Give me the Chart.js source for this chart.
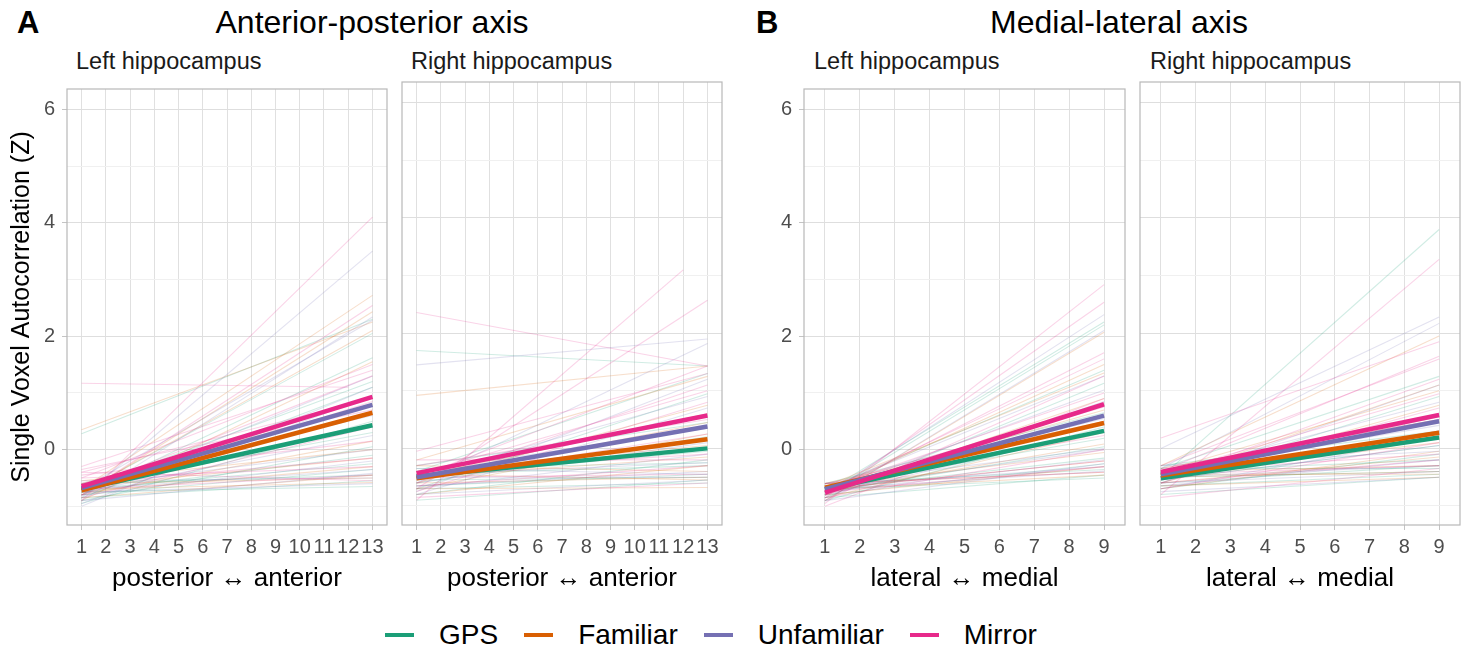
<!DOCTYPE html>
<html>
<head>
<meta charset="utf-8">
<script src="https://cdn.jsdelivr.net/npm/chart.js@4.4.1/dist/chart.umd.min.js"></script>
<style>
  html, body { margin: 0; padding: 0; background: #fff; }
  body { width: 1466px; height: 651px; position: relative; overflow: hidden;
         font-family: "Liberation Sans", Arial, Helvetica, sans-serif; }
  canvas { position: absolute; }
  .lbl { position: absolute; white-space: nowrap; color: #000; line-height: 1; }
  .tag { font-weight: bold; font-size: 31px; }
  .ttl { font-size: 32px; transform: translateX(-50%); }
  .strip { font-size: 23.5px; color: #1a1a1a; }
  #legend { position: absolute; left: 385px; top: 619px; display: flex; align-items: center;
            font-size: 28px; }
  #legend .sw { width: 29px; height: 4px; margin-right: 25px; }
  #legend .it { display: flex; align-items: center; margin-right: 26px; }
</style>
</head>
<body>
<div class="lbl tag" style="left:17px;top:7px">A</div>
<div class="lbl ttl" style="left:372px;top:6px">Anterior-posterior axis</div>
<div class="lbl tag" style="left:756px;top:7px">B</div>
<div class="lbl ttl" style="left:1119px;top:6px">Medial-lateral axis</div>
<div class="lbl strip" style="left:76px;top:50px">Left hippocampus</div>
<div class="lbl strip" style="left:411px;top:50px">Right hippocampus</div>
<div class="lbl strip" style="left:814px;top:50px">Left hippocampus</div>
<div class="lbl strip" style="left:1150px;top:50px">Right hippocampus</div>

<canvas id="apLeft" width="395" height="530" style="left:0px;top:70px"></canvas>
<canvas id="apRight" width="332" height="530" style="left:398px;top:70px"></canvas>
<canvas id="mlLeft" width="373" height="530" style="left:760px;top:70px"></canvas>
<canvas id="mlRight" width="329" height="530" style="left:1136px;top:70px"></canvas>

<div id="legend"></div>

<script>
var GROUPS = ['GPS', 'Familiar', 'Unfamiliar', 'Mirror'];
var GROUP_COLORS = ['#1B9E77', '#D95F02', '#7570B3', '#E7298A'];

var AP_POSITIONS = [1, 2, 3, 4, 5, 6, 7, 8, 9, 10, 11, 12, 13];
var ML_POSITIONS = [1, 2, 3, 4, 5, 6, 7, 8, 9];
var Y_TICKS = [-1, 0, 1, 2, 3, 4, 5, 6];

// model fits per group: [value at first position, value at last position]
var AP_LEFT_MEANS  = [[-0.70, 0.43], [-0.72, 0.65], [-0.68, 0.79], [-0.65, 0.93]];
var AP_RIGHT_MEANS = [[-0.49, 0.00], [-0.52, 0.16], [-0.50, 0.38], [-0.43, 0.57]];
var ML_LEFT_MEANS  = [[-0.70, 0.33], [-0.67, 0.47], [-0.70, 0.60], [-0.76, 0.80]];
var ML_RIGHT_MEANS = [[-0.52, 0.19], [-0.47, 0.27], [-0.45, 0.47], [-0.41, 0.58]];

// single subjects: [start, end] or [start, end, last position]
var AP_LEFT_GPS = [[0.28, 2.30], [-0.75, 2.05], [-0.80, 1.62], [-0.70, 1.20], [-0.85, 1.10], [-0.65, 0.30],
  [-0.90, 0.05], [-0.75, -0.10], [-0.70, -0.25], [-0.80, -0.35], [-0.60, -0.45], [-0.85, -0.55], [-0.75, -0.65], [-0.95, 0.50]];
var AP_LEFT_FAM = [[0.35, 2.25], [-0.70, 2.72], [-0.80, 2.43], [-0.75, 2.10], [-0.90, 1.55], [-0.60, 0.80],
  [-0.70, 0.45], [-0.80, 0.15], [-0.65, -0.15], [-0.75, -0.30], [-0.85, -0.45], [-0.60, -0.50], [-0.70, -0.58], [-0.55, 0.00]];
var AP_LEFT_UNF = [[-0.85, 3.50], [-0.90, 2.34], [-0.70, 2.28], [-0.80, 1.30], [-0.95, 0.95], [-0.60, 0.60],
  [-0.75, 0.25], [-0.65, 0.00], [-0.80, -0.20], [-0.70, -0.35], [-0.90, -0.42], [-0.55, -0.50], [-0.75, -0.60], [-1.00, 1.10]];
var AP_LEFT_MIR = [[1.17, 1.10, 12], [-0.90, 4.10], [-0.80, 2.54], [-0.50, 1.50], [-0.30, 1.40], [-0.70, 1.30],
  [-0.40, 0.90], [-0.35, 0.70], [-0.85, 0.40], [-0.45, 0.15], [-0.60, -0.15], [-0.50, -0.30], [-0.70, -0.45], [-0.40, -0.55], [-0.80, 0.85]];

var AP_RIGHT_GPS = [[1.70, 1.43], [-0.40, 1.30], [-0.70, 0.95], [-0.30, 0.45], [-0.60, 0.20], [-0.50, -0.05],
  [-0.80, -0.20], [-0.45, -0.30], [-0.65, -0.45], [-0.55, -0.50], [-0.70, -0.60], [-0.90, -0.55], [-0.35, -0.25]];
var AP_RIGHT_FAM = [[0.92, 1.43], [-0.20, 1.25], [-0.60, 0.75], [-0.55, 0.45], [-0.70, 0.25], [-0.40, 0.05],
  [-0.50, -0.15], [-0.80, -0.30], [-0.30, -0.40], [-0.60, -0.50], [-0.45, -0.55], [-0.70, -0.68], [-0.50, 0.60]];
var AP_RIGHT_UNF = [[1.45, 1.90], [-0.60, 1.82], [-0.75, 1.20], [-0.50, 0.90], [-0.80, 0.70], [-0.40, 0.35],
  [-0.60, 0.10], [-0.70, -0.10], [-0.45, -0.25], [-0.65, -0.40], [-0.50, -0.50], [-0.80, -0.55], [-0.35, -0.45]];
var AP_RIGHT_MIR = [[2.36, 1.43], [-0.90, 3.10, 12], [-0.70, 2.57], [-0.50, 1.43], [-0.05, 1.30], [-0.60, 1.10],
  [-0.45, 1.00], [-0.75, 0.80], [-0.30, 0.50], [-0.55, 0.25], [-0.40, -0.10], [-0.65, -0.30], [-0.50, -0.45], [-0.85, -0.60], [-0.20, -0.20]];

var ML_LEFT_GPS = [[-0.75, 2.25], [-0.80, 2.20], [-0.70, 1.40], [-0.85, 1.17], [-0.60, 0.65], [-0.90, 0.40],
  [-0.65, 0.20], [-0.75, 0.05], [-0.70, -0.15], [-0.80, -0.25], [-0.60, -0.35], [-0.85, -0.45], [-0.70, -0.50]];
var ML_LEFT_FAM = [[-0.90, 2.07], [-0.75, 1.50], [-0.65, 1.35], [-0.80, 0.90], [-0.70, 0.70], [-0.60, 0.50],
  [-0.85, 0.30], [-0.75, 0.10], [-0.65, -0.05], [-0.70, -0.20], [-0.80, -0.30], [-0.60, -0.40], [-0.70, -0.45]];
var ML_LEFT_UNF = [[-0.80, 2.38], [-0.90, 2.10], [-0.70, 1.30], [-0.75, 1.05], [-0.85, 0.85], [-0.65, 0.55],
  [-0.80, 0.35], [-0.70, 0.00], [-0.60, 0.02], [-0.75, -0.18], [-0.90, -0.25], [-0.65, -0.30], [-0.70, -0.38]];
var ML_LEFT_MIR = [[-0.95, 2.91], [-0.85, 2.60], [-0.80, 1.71], [-0.75, 1.60], [-0.90, 1.30], [-0.70, 1.00],
  [-0.65, 0.75], [-0.80, 0.50], [-0.60, 0.25], [-0.85, 0.00], [-0.70, -0.20], [-0.75, -0.30], [-0.60, -0.40], [-1.00, 0.90]];

var ML_RIGHT_GPS = [[-0.50, 3.80], [-0.35, 1.25], [-0.60, 0.90], [-0.45, 0.60], [-0.30, 0.30], [-0.55, 0.05],
  [-0.70, -0.10], [-0.40, -0.20], [-0.60, -0.30], [-0.50, -0.40], [-0.65, -0.45], [-0.35, -0.35], [-0.80, -0.50]];
var ML_RIGHT_FAM = [[-0.30, 1.95], [-0.55, 1.10], [-0.40, 1.00], [-0.60, 0.75], [-0.35, 0.50], [-0.50, 0.30],
  [-0.45, 0.10], [-0.70, -0.05], [-0.60, -0.15], [-0.40, -0.30], [-0.50, -0.40], [-0.65, -0.50], [-0.45, -0.45]];
var ML_RIGHT_UNF = [[0.00, 2.28], [-0.35, 2.17], [-0.60, 1.10], [-0.45, 0.80], [-0.50, 0.55], [-0.40, 0.40],
  [-0.70, 0.20], [-0.55, 0.05], [-0.30, -0.05], [-0.65, -0.20], [-0.50, -0.30], [-0.60, -0.40], [-0.75, -0.50]];
var ML_RIGHT_MIR = [[0.18, 1.85], [-0.80, 3.28], [-0.40, 1.60], [-0.30, 1.55], [-0.55, 1.20], [-0.45, 0.95],
  [-0.60, 0.70], [-0.35, 0.50], [-0.50, 0.30], [-0.70, 0.10], [-0.40, -0.10], [-0.60, -0.20], [-0.45, -0.30], [-0.85, -0.35]];

var FONT = '"Liberation Sans", Arial, Helvetica, sans-serif';
var TICK_GREY = '#4d4d4d';

function hexA(hex, a) {
  var n = parseInt(hex.slice(1), 16);
  return 'rgba(' + (n >> 16) + ',' + ((n >> 8) & 255) + ',' + (n & 255) + ',' + a + ')';
}

var panelBorder = {
  id: 'panelBorder',
  afterDatasetsDraw: function(chart) {
    var a = chart.chartArea, ctx = chart.ctx;
    ctx.save();
    ctx.strokeStyle = '#b8b8b8';
    ctx.lineWidth = 1.2;
    ctx.strokeRect(a.left, a.top, a.right - a.left, a.bottom - a.top);
    ctx.restore();
  }
};

function makePanel(id, positions, subjects, means, opts) {
  var last = positions[positions.length - 1];
  var ds = [];
  subjects.forEach(function(list, g) {
    list.forEach(function(s) {
      ds.push({
        data: [{ x: positions[0], y: s[0] }, { x: s.length > 2 ? s[2] : last, y: s[1] }],
        borderColor: hexA(GROUP_COLORS[g], 0.2),
        borderWidth: 1.1, pointRadius: 0, fill: false
      });
    });
  });
  means.forEach(function(m, g) {
    ds.push({
      label: GROUPS[g],
      data: [{ x: positions[0], y: m[0] }, { x: last, y: m[1] }],
      borderColor: GROUP_COLORS[g],
      borderWidth: 4.5, pointRadius: 0, fill: false
    });
  });
  ds.reverse(); // first dataset is painted last

  var showY = !!opts.showY;
  return new Chart(document.getElementById(id), {
    type: 'line',
    data: { datasets: ds },
    plugins: [panelBorder],
    options: {
      responsive: false,
      animation: false,
      events: [],
      layout: { padding: { top: 12, right: opts.padRight, left: opts.padLeft, bottom: 0 } },
      plugins: { legend: { display: false }, tooltip: { enabled: false } },
      scales: {
        x: {
          type: 'linear',
          min: 0.4, max: last + 0.6,
          afterBuildTicks: function(sc) { sc.ticks = positions.map(function(v) { return { value: v }; }); },
          afterFit: function(sc) { sc.height = 75; },
          border: { display: false },
          grid: { color: '#e0e0e0', lineWidth: 1, tickLength: 5, tickColor: '#c4c4c4' },
          ticks: { autoSkip: false, maxRotation: 0, minRotation: 0, padding: 5, color: TICK_GREY,
                   font: { family: FONT, size: 20 } },
          title: { display: true, text: opts.xTitle, color: '#000', padding: { top: 0, bottom: 6 },
                   font: { family: FONT, size: 26 } }
        },
        y: {
          min: -1.33, max: 6.36,
          afterBuildTicks: function(sc) { sc.ticks = Y_TICKS.map(function(v) { return { value: v }; }); },
          afterFit: function(sc) { sc.width = opts.yWidth; },
          border: { display: false },
          grid: {
            color: function(c) { return c.tick && c.tick.value % 2 === 0 ? '#dedede' : '#f0f0f0'; },
            lineWidth: 1,
            drawTicks: showY, tickLength: 5,
            tickColor: function(c) { return c.tick && c.tick.value % 2 === 0 ? '#c4c4c4' : 'rgba(0,0,0,0)'; }
          },
          ticks: {
            display: showY, autoSkip: false, padding: 7, color: TICK_GREY,
            font: { family: FONT, size: 20 },
            callback: function(v) { return v % 2 === 0 ? String(v) : ''; }
          },
          title: {
            display: !!opts.yTitle, text: opts.yTitle || '', color: '#000',
            padding: { top: 7, bottom: 0 }, font: { family: FONT, size: 25 }
          }
        }
      }
    }
  });
}

makePanel('apLeft', AP_POSITIONS, [AP_LEFT_GPS, AP_LEFT_FAM, AP_LEFT_UNF, AP_LEFT_MIR], AP_LEFT_MEANS,
  { showY: true, yWidth: 67, padLeft: 0, padRight: 8, xTitle: 'posterior \u2194 anterior',
    yTitle: 'Single Voxel Autocorrelation (Z)' });
makePanel('apRight', AP_POSITIONS, [AP_RIGHT_GPS, AP_RIGHT_FAM, AP_RIGHT_UNF, AP_RIGHT_MIR], AP_RIGHT_MEANS,
  { showY: false, yWidth: 0, padLeft: 4, padRight: 8, xTitle: 'posterior \u2194 anterior' });
makePanel('mlLeft', ML_POSITIONS, [ML_LEFT_GPS, ML_LEFT_FAM, ML_LEFT_UNF, ML_LEFT_MIR], ML_LEFT_MEANS,
  { showY: true, yWidth: 44, padLeft: 0, padRight: 8, xTitle: 'lateral \u2194 medial' });
makePanel('mlRight', ML_POSITIONS, [ML_RIGHT_GPS, ML_RIGHT_FAM, ML_RIGHT_UNF, ML_RIGHT_MIR], ML_RIGHT_MEANS,
  { showY: false, yWidth: 0, padLeft: 4, padRight: 5, xTitle: 'lateral \u2194 medial' });

// legend
var leg = document.getElementById('legend');
GROUPS.forEach(function(name, i) {
  var it = document.createElement('div');
  it.className = 'it';
  var sw = document.createElement('div');
  sw.className = 'sw';
  sw.style.background = GROUP_COLORS[i];
  var tx = document.createElement('span');
  tx.textContent = name;
  it.appendChild(sw);
  it.appendChild(tx);
  leg.appendChild(it);
});
</script>
</body>
</html>
